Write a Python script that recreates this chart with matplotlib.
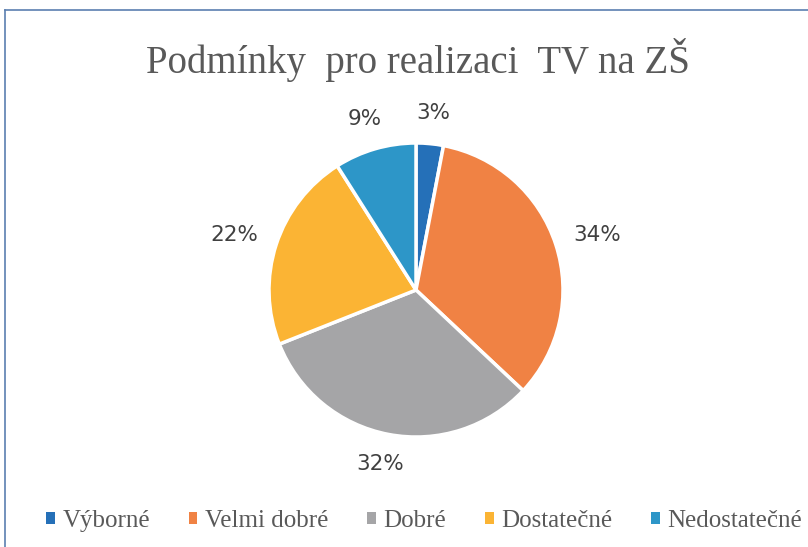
import matplotlib
matplotlib.use("Agg")
import numpy as np
import matplotlib.pyplot as plt
from matplotlib.patches import Patch
from matplotlib.lines import Line2D

categories = ["Výborné", "Velmi dobré", "Dobré", "Dostatečné", "Nedostatečné"]
values = [3, 34, 32, 22, 9]
colors = ["#2570B8", "#F08244", "#A5A5A7", "#FBB434", "#2D96C8"]
title = "Podmínky  pro realizaci  TV na ZŠ"

W, H = 808, 547
fig = plt.figure(figsize=(W / 100, H / 100), dpi=100)
fig.patch.set_facecolor("white")

# pie axes placement (pixels)
cx, cy, r = 416, 290, 147
lim = 1.25
size = 2 * lim * r
ax = fig.add_axes([(cx - size / 2) / W, (H - cy - size / 2) / H, size / W, size / H])
wedges, _ = ax.pie(
    values, colors=colors, startangle=90, counterclock=False,
    wedgeprops=dict(edgecolor="white", linewidth=2.5),
)
ax.set_xlim(-lim, lim)
ax.set_ylim(-lim, lim)
ax.set_aspect("equal")
ax.axis("off")

# percentage labels placed outside end, box pushed away from the pie
total = sum(values)
fig.canvas.draw()
renderer = fig.canvas.get_renderer()
for w, v in zip(wedges, values):
    ang = np.deg2rad((w.theta1 + w.theta2) / 2)
    ux, uy = np.cos(ang), np.sin(ang)
    t = ax.text(0, 0, f"{100 * v / total:.0f}%", ha="center", va="center",
                color="#404040", fontsize=15.5, family="DejaVu Sans")
    bb = t.get_window_extent(renderer)
    hw, hh = (bb.width + 4) / 2 / r, (bb.height + 6) / 2 / r
    k = 1.12
    t.set_position((k * ux + hw * ux, k * uy + hh * uy))

fig.text(418 / W, 1 - 60 / H, title, ha="center", va="center",
         fontsize=28, color="#595959", family="Liberation Serif")

handles = [Patch(facecolor=c, edgecolor="none") for c in colors]
leg = fig.legend(handles, categories, loc="center", bbox_to_anchor=(424 / W, 1 - 521 / H),
                 ncol=5, frameon=False, handlelength=0.35, handleheight=0.35,
                 handletextpad=0.3, columnspacing=1.55,
                 prop=dict(family="Liberation Serif", size=18))
for t in leg.get_texts():
    t.set_color("#595959")

# chart border (partially cropped)
bc = "#5B7FB0"
fig.add_artist(Line2D([5 / W, 5 / W], [0, 1 - 10 / H], color=bc, lw=1.2, transform=fig.transFigure))
fig.add_artist(Line2D([5 / W, 1], [1 - 10 / H, 1 - 10 / H], color=bc, lw=1.2, transform=fig.transFigure))

fig.savefig("out.png", dpi=100)
